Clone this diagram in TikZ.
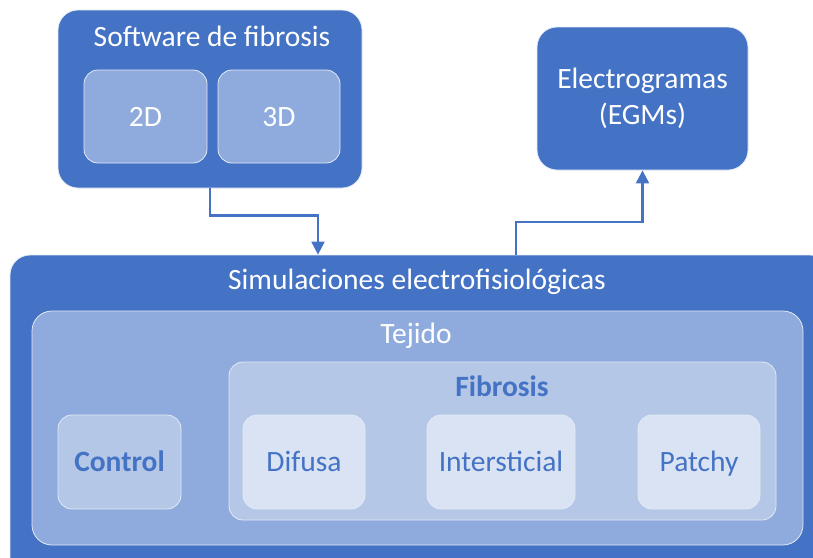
\documentclass[tikz,border=0pt]{standalone}
\usepackage{fontspec}
\setmainfont{Carlito}
\usepackage{tikz}
\usetikzlibrary{arrows.meta}
\definecolor{azulfuerte}{HTML}{4472C4}
\definecolor{azulmedio}{HTML}{8FAADC}
\definecolor{azulclaro}{HTML}{B4C7E7}
\definecolor{azulpalido}{HTML}{DAE3F3}
\tikzset{
  caja/.style={draw=white!85!azulfuerte, line width=0.8pt, rounded corners=20pt,
    inner sep=0pt, font=\fontsize{29.5}{36}\selectfont},
  fuerte/.style={caja, fill=azulfuerte, text=white},
  medio/.style={caja, fill=azulmedio, text=white, rounded corners=14pt, text height=20pt, text depth=1pt},
  claro/.style={caja, fill=azulclaro, text=azulfuerte, rounded corners=14pt, text height=20pt, text depth=1pt},
  palido/.style={caja, fill=azulpalido, text=azulfuerte, rounded corners=14pt, text height=20pt, text depth=1pt},
  titulo/.style={font=\fontsize{29.5}{36}\selectfont, inner sep=0pt, text height=20pt, text depth=3pt},
  flecha/.style={draw=azulfuerte, line width=2.2pt, -{Triangle[width=13pt,length=13pt]}}
}

\begin{document}
\begin{tikzpicture}[x=1pt, y=-1pt]
\useasboundingbox (0,0) rectangle (813,557);
\clip (0,0) rectangle (813,557);
% software de fibrosis
\node[fuerte, minimum width=304pt, minimum height=178pt] (sw) at (210,99) {};
\node[titulo, text=white] (swt) at (212,38) {Software de fibrosis};
\node[medio, minimum width=123pt, minimum height=93pt] (dos) at (145.5,116.5) {2D};
\node[medio, minimum width=122pt, minimum height=93pt] (tres) at (279,116.5) {3D};
% electrogramas
\node[fuerte, minimum width=211pt, minimum height=143pt, align=center] (egm) at (642.5,98.5)
  {Electrogramas\\(EGMs)};
% simulaciones
\node[fuerte, minimum width=820pt, minimum height=325pt] (sim) at (420,417.5) {};
\node[titulo, text=white] (simt) at (417,281) {Simulaciones electrofisiológicas};
\node[medio, minimum width=771pt, minimum height=234pt, rounded corners=20pt] (tej) at (417.5,428) {};
\node[titulo, text=white] (tejt) at (416,335) {Tejido};
\node[claro, minimum width=547pt, minimum height=158pt] (fib) at (502.5,441) {};
\node[titulo, text=azulfuerte, font=\fontsize{29.5}{36}\selectfont\bfseries] (fibt) at (502,388) {Fibrosis};
\node[claro, minimum width=123pt, minimum height=94pt, font=\fontsize{29.5}{36}\selectfont\bfseries] (ctl) at (119.5,462) {Control};
\node[palido, minimum width=122pt, minimum height=94pt] (dif) at (304,462) {Difusa};
\node[palido, minimum width=148pt, minimum height=94pt] (int) at (501,462) {Intersticial};
\node[palido, minimum width=122pt, minimum height=94pt] (pat) at (699,462) {Patchy};
% flechas
\draw[flecha] (sw.south) -- ++(0,27) -| ([xshift=-102pt]sim.north);
\draw[flecha] ([xshift=96pt]sim.north) -- ++(0,-33) -| (egm.south);
\end{tikzpicture}
\end{document}
